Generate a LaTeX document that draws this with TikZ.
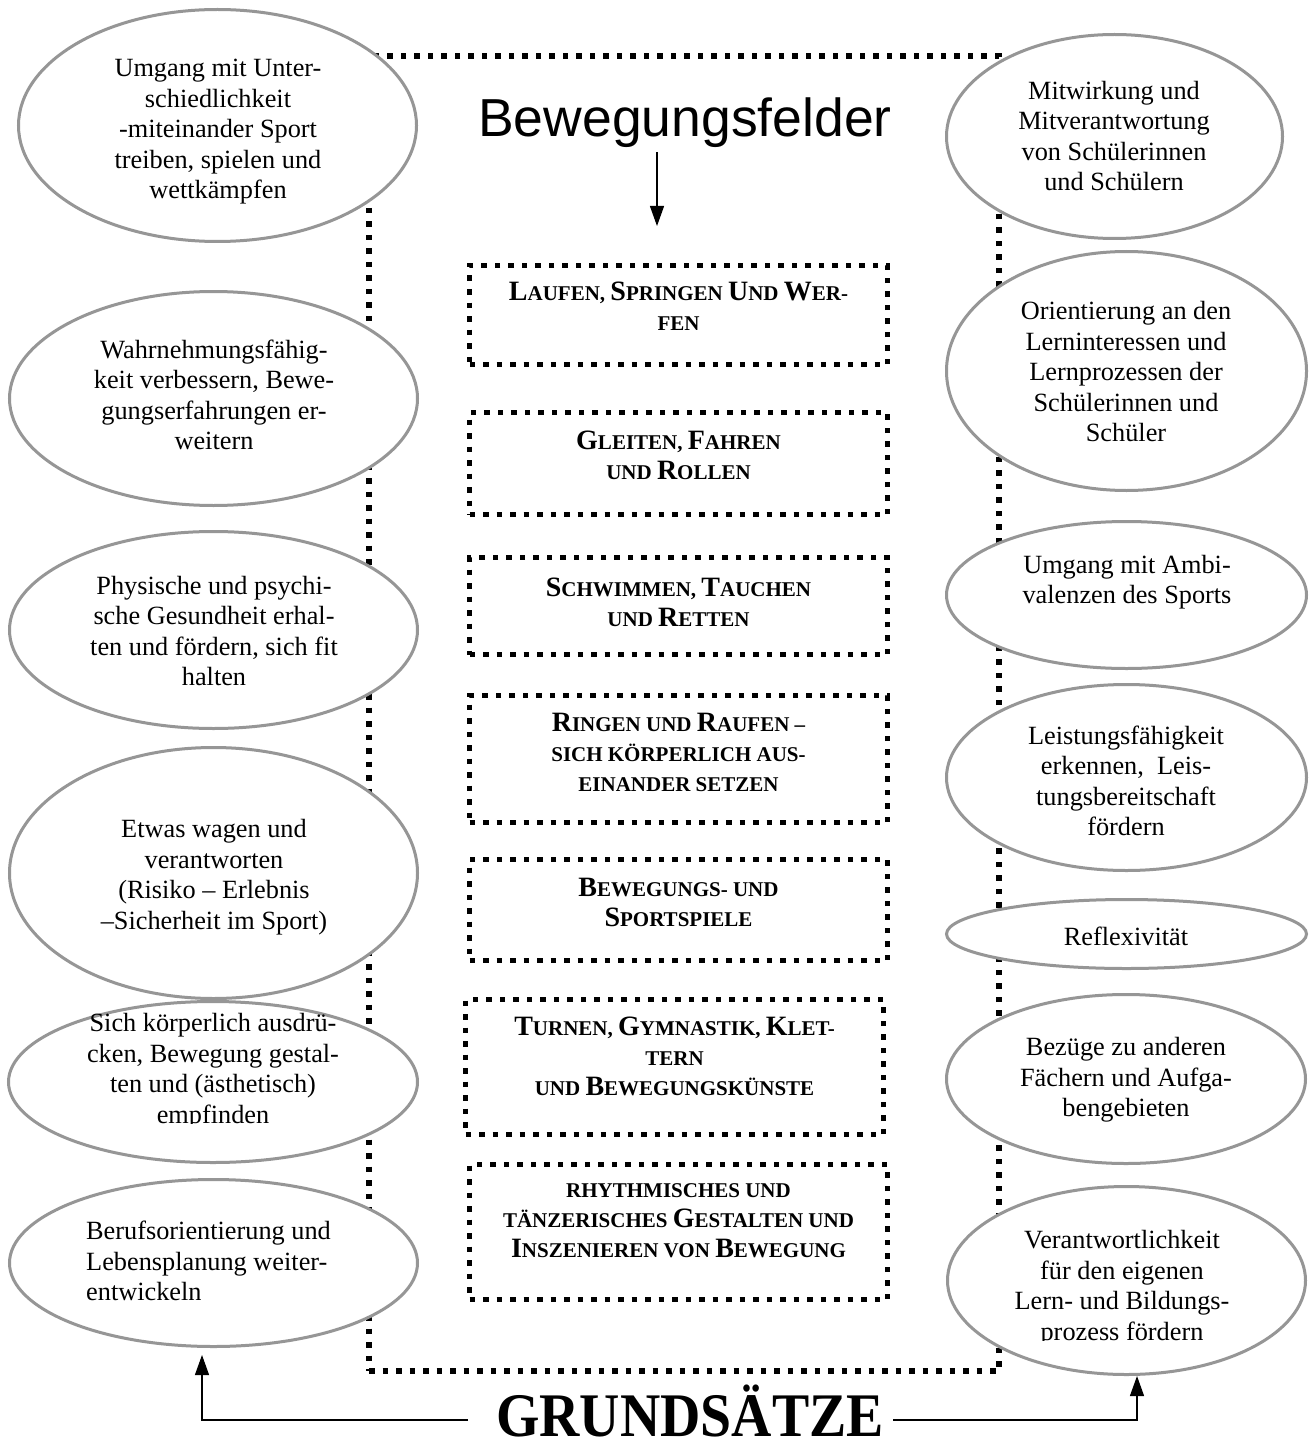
\documentclass[tikz,border=0pt]{standalone}
\usepackage{fontspec}
\usepackage{graphicx}
\setmainfont{Liberation Serif}
\newfontfamily\arialf{Liberation Sans}
\usetikzlibrary{shapes.geometric,arrows.meta}
\definecolor{ellgray}{RGB}{150,150,150}
\newcommand\BC[1]{{\fontsize{28}{30}\selectfont #1}}
\begin{document}
\begin{tikzpicture}[x=1pt,y=-1pt,
  ell/.style={ellipse,draw=ellgray,line width=3pt,fill=white,inner sep=0pt},
  etext/.style={align=center,inner sep=0pt,font=\fontsize{26.3}{30.5}\selectfont},
  dotbox/.style={draw,line width=5.5pt,dash pattern=on 5.5pt off 8pt,inner sep=0pt},
  fieldbox/.style={dotbox,minimum width=418pt},
  btext/.style={align=center,inner sep=0pt,font=\bfseries\fontsize{21}{30}\selectfont},
  arr/.style={line width=1.2pt,-{Triangle[length=20pt,width=14pt]}},
  plain/.style={line width=1.2pt}
]
\useasboundingbox (0,0) rectangle (1311,1447);
\fill[white] (0,0) rectangle (1311,1447);

% outer dotted frame
\node[dotbox,minimum width=630pt,minimum height=1315pt] (frame) at (684,713.5) {};

% title
\node[font=\arialf\fontsize{53.5}{60}\selectfont,inner sep=0pt,anchor=base] (title) at (685,137) {Bewegungsfelder};
\coordinate (atip) at (657,226);
\draw[arr,shorten <=4pt] (title.south -| atip) -- (atip);

% field boxes
\node[fieldbox,minimum height=99pt]  (b1) at (678.5,315) {};
\node[fieldbox,minimum height=102pt] (b2) at (678.5,463.5) {};
\node[fieldbox,minimum height=97pt]  (b3) at (678.5,606) {};
\node[fieldbox,minimum height=127pt] (b4) at (678.5,759) {};
\node[fieldbox,minimum height=101pt] (b5) at (678.5,910) {};
\node[fieldbox,minimum height=135pt] (b6) at (674.5,1067) {};
\node[fieldbox,minimum height=135pt] (b7) at (678.5,1232) {};

\node[btext] (t1) at (678.5,306) {\BC{L}AUFEN, \BC{S}PRINGEN \BC{U}ND \BC{W}ER-\\FEN};
\node[btext] (t2) at (678.5,455) {\BC{G}LEITEN, \BC{F}AHREN\\UND \BC{R}OLLEN};
\node[btext] (t3) at (678.5,602) {\BC{S}CHWIMMEN, \BC{T}AUCHEN\\UND \BC{R}ETTEN};
\node[btext] (t4) at (678.5,752) {\BC{R}INGEN UND \BC{R}AUFEN –\\SICH KÖRPERLICH AUS-\\EINANDER SETZEN};
\node[btext] (t5) at (678.5,902) {\BC{B}EWEGUNGS- UND\\\BC{S}PORTSPIELE};
\node[btext] (t6) at (674.5,1056) {\BC{T}URNEN, \BC{G}YMNASTIK, \BC{K}LET-\\TERN\\UND \BC{B}EWEGUNGSKÜNSTE};
\node[btext] (t7) at (678.5,1221) {RHYTHMISCHES UND\\TÄNZERISCHES \BC{G}ESTALTEN UND\\\BC{I}NSZENIEREN VON \BC{B}EWEGUNG};

% left ellipses
\node[ell,minimum width=398pt,minimum height=232pt] (L1) at (217.5,125.5) {};
\node[ell,minimum width=408pt,minimum height=214pt] (L2) at (213.5,398.5) {};
\node[ell,minimum width=408pt,minimum height=197pt] (L3) at (213.5,630) {};
\node[ell,minimum width=408pt,minimum height=251pt] (L4) at (213.5,873) {};
\node[ell,minimum width=409pt,minimum height=161pt] (L5) at (213,1082) {};
\node[ell,minimum width=408pt,minimum height=167pt] (L6) at (213.5,1263) {};

% right ellipses
\node[ell,minimum width=336pt,minimum height=204pt] (R1) at (1114.5,136.5) {};
\node[ell,minimum width=360pt,minimum height=239pt] (R2) at (1126.5,371) {};
\node[ell,minimum width=360pt,minimum height=147pt] (R3) at (1126.5,595) {};
\node[ell,minimum width=360pt,minimum height=186pt] (R4) at (1126.5,777.5) {};
\node[ell,minimum width=360pt,minimum height=69pt]  (R5) at (1126.5,934) {};
\node[ell,minimum width=359pt,minimum height=169pt] (R6) at (1126,1079) {};
\node[ell,minimum width=358pt,minimum height=188pt] (R7) at (1126.5,1280.5) {};

% ellipse texts
\node[etext] (l1) at (218,132) {Umgang mit Unter-\\schiedlichkeit\\-miteinander Sport\\treiben, spielen und\\wettkämpfen};
\node[etext] (l2) at (214,395) {Wahrnehmungsfähig-\\keit verbessern, Bewe-\\gungserfahrungen er-\\weitern};
\node[etext] (l3) at (214,631) {Physische und psychi-\\sche Gesundheit erhal-\\ten und fördern, sich fit\\halten};
\node[etext] (l4) at (214,877) {Etwas wagen und\\verantworten\\(Risiko – Erlebnis\\–Sicherheit im Sport)};
\begin{scope}
\clip (0,900) rectangle (1311,1123);
\node[etext] (l5) at (213,1071) {Sich körperlich ausdrü-\\cken, Bewegung gestal-\\ten und (ästhetisch)\\empfinden};
\end{scope}
\node[etext,align=left,anchor=west] (l6) at (86,1261) {Berufsorientierung und\\Lebensplanung weiter-\\entwickeln};

\node[etext] (r1) at (1114,136) {Mitwirkung und\\Mitverantwortung\\von Schülerinnen\\und Schülern};
\node[etext] (r2) at (1126,372) {Orientierung an den\\Lerninteressen und\\Lernprozessen der\\Schülerinnen und\\Schüler};
\node[etext] (r3) at (1127,582) {Umgang mit Ambi-\\valenzen des Sports};
\node[etext] (r4) at (1126,781) {Leistungsfähigkeit\\erkennen,\ \ Leis-\\tungsbereitschaft\\fördern};
\node[etext] (r5) at (1126,936) {Reflexivität};
\node[etext] (r6) at (1126,1080) {Bezüge zu anderen\\Fächern und Aufga-\\bengebieten};
\begin{scope}
\clip (900,1150) rectangle (1311,1340);
\node[etext] (r7) at (1122,1288) {Verantwortlichkeit\\für den eigenen\\Lern- und Bildungs-\\prozess fördern};
\end{scope}

% Grundsaetze
\node[font=\bfseries\fontsize{62}{70}\selectfont,inner sep=0pt,anchor=base] (gr) at (690,1436) {\scalebox{0.9}[1]{GRUNDSÄTZE}};
\coordinate (gl) at (202,1420);
\coordinate (grr) at (1137,1420);
\draw[arr,shorten >=7pt] ([xshift=-28pt]gr.west |- gl) -- (gl) -- (gl |- L6.south);
\draw[arr] ([xshift=9pt]gr.east |- grr) -- (grr) -- (grr |- R7.south);
\end{tikzpicture}
\end{document}
